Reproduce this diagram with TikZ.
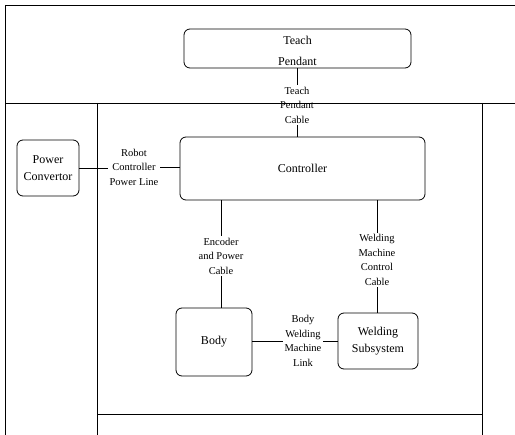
\documentclass[tikz,border=0pt]{standalone}
\usepackage{fontspec}
\setmainfont{Liberation Serif}
\begin{document}
\begin{tikzpicture}[x=1pt,y=-1pt,
  box/.style={draw, rounded corners=6pt, line width=0.8pt, align=center,
    font=\fontsize{12}{16.5}\selectfont, inner sep=0pt},
  lbl/.style={align=center, font=\fontsize{10.5}{14.5}\selectfont, inner sep=1.5pt},
  wire/.style={line width=0.8pt},
  frame/.style={line width=0.7pt}]
\useasboundingbox (0,0) rectangle (515,435);

% enclosing frame lines
\draw[frame] (5,5) -- (515,5);
\draw[frame] (5,5) -- (5,435);
\draw[frame] (5,103) -- (515,103);
\draw[frame] (97,103) -- (97,435);
\draw[frame] (482,103) -- (482,435);
\draw[frame] (97,414) -- (482,414);

% components (the pendant caption sits a little low in its box)
\node[box, minimum width=227pt, minimum height=39pt] (tp) at (297.5,48.5)
  {\raisebox{-6pt}[0pt][0pt]{\begin{tabular}{@{}c@{}}Teach\\[4pt]Pendant\end{tabular}}};
\node[box, minimum width=245pt, minimum height=63pt] (ctrl) at (302.5,168.5) {Controller};
\node[box, minimum width=62pt, minimum height=56pt] (pc) at (48,168) {Power\\Convertor};
\node[box, minimum width=76pt, minimum height=68pt] (body) at (214,342) {Body};
\node[box, minimum width=80pt, minimum height=56pt] (ws) at (378,341) {Welding\\Subsystem};

% connector labels
\node[lbl] (tpc) at (297,105) {Teach\\Pendant\\Cable};
\node[lbl] (rcpl) at (134,167) {Robot\\Controller\\Power Line};
\node[lbl] (epc) at (221,256) {Encoder\\and Power\\Cable};
\node[lbl] (wmcc) at (377,260) {Welding\\Machine\\Control\\Cable};
\node[lbl] (bwml) at (303,341) {Body\\Welding\\Machine\\Link};

% connectors
\draw[wire] (tp.south -| tpc.north) -- (tpc.north);
\draw[wire] (tpc.south) -- (tpc.south |- ctrl.north);
\draw[wire] (pc.east) -- (pc.east -| rcpl.west);
\draw[wire] (rcpl.east) -- (rcpl.east -| ctrl.west);
\draw[wire] (epc.north |- ctrl.south) -- (epc.north);
\draw[wire] (epc.south) -- (epc.south |- body.north);
\draw[wire] (wmcc.north |- ctrl.south) -- (wmcc.north);
\draw[wire] (wmcc.south) -- (wmcc.south |- ws.north);
\draw[wire] (body.east |- bwml.west) -- (bwml.west);
\draw[wire] (bwml.east) -- (bwml.east -| ws.west);
\end{tikzpicture}
\end{document}
